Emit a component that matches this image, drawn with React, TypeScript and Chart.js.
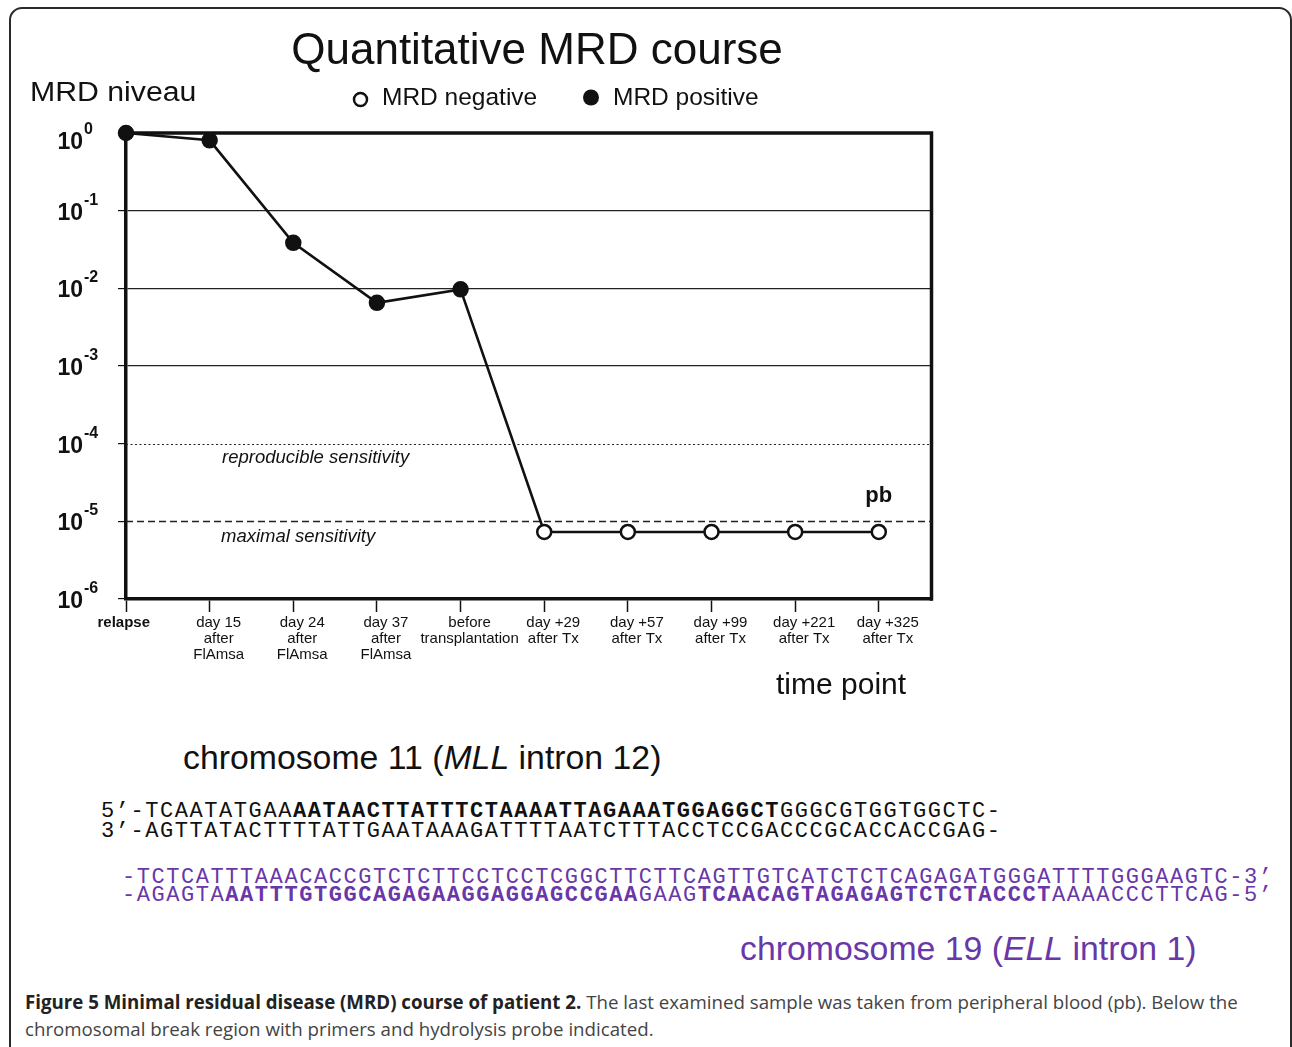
import React, { useEffect, useRef } from "react";
import { Chart, registerables } from "chart.js";

Chart.register(...registerables);

// ---------- data ----------
const chartTitle = "Quantitative MRD course";
const yAxisTitle = "MRD niveau";
const xAxisTitle = "time point";
const legendNegative = "MRD negative";
const legendPositive = "MRD positive";

const timePointLabels: string[][] = [
  ["relapse"],
  ["day 15", "after", "FlAmsa"],
  ["day 24", "after", "FlAmsa"],
  ["day 37", "after", "FlAmsa"],
  ["before", "transplantation"],
  ["day +29", "after Tx"],
  ["day +57", "after Tx"],
  ["day +99", "after Tx"],
  ["day +221", "after Tx"],
  ["day +325", "after Tx"],
];
const mrdLevels = [1, 0.805, 0.0385, 0.0065, 0.0097, 7.3e-6, 7.3e-6, 7.3e-6, 7.3e-6, 7.3e-6];
const mrdPositive = [true, true, true, true, true, false, false, false, false, false];

const yTickExponents = [0, -1, -2, -3, -4, -5, -6];
const solidGridExponents = [-1, -2, -3];
const sensitivityLevels = [1e-4, 1e-5];
const sensitivityLabels = ["reproducible sensitivity", "maximal sensitivity"];
const lastSampleLabel = "pb";

const chr11Heading = ["chromosome 11 (", "MLL", " intron 12)"];
const chr19Heading = ["chromosome 19 (", "ELL", " intron 1)"];
const seq11Top = ["5’-TCAATATGAA", "AATAACTTATTTCTAAAATTAGAAATGGAGGCT", "GGGCGTGGTGGCTC-"];
const seq11Bottom = ["3’-AGTTATACTTTTATTGAATAAAGATTTTAATCTTTACCTCCGACCCGCACCACCGAG-"];
const seq19Top = ["-TCTCATTTAAACACCGTCTCTTCCTCCTCGGCTTCTTCAGTTGTCATCTCTCAGAGATGGGATTTTGGGAAGTC-3’"];
const seq19Bottom = [
  "-AGAGTA",
  "AATTTGTGGCAGAGAAGGAGGAGCCGAA",
  "GAAG",
  "TCAACAGTAGAGAGTCTCTACCCT",
  "AAAACCCTTCAG-5’",
];
const captionBold = "Figure 5 Minimal residual disease (MRD) course of patient 2.";
const captionLine1 = " The last examined sample was taken from peripheral blood (pb). Below the";
const captionLine2 = "chromosomal break region with primers and hydrolysis probe indicated.";

const INK = "#111";
const PURPLE = "#6937a8";
const SANS = '"Liberation Sans", Arial, sans-serif';
const MONO = '"Liberation Mono", "Courier New", monospace';

export default function App() {
  const ref = useRef<HTMLCanvasElement>(null);

  useEffect(() => {
    const canvas = ref.current;
    if (!canvas) return;

    const decorPlugin = {
      id: "mrdDecor",
      beforeDatasetsDraw(chart: any) {
        const { ctx, chartArea: a, scales } = chart;
        const y = scales.y;
        ctx.save();
        ctx.strokeStyle = INK;
        ctx.lineWidth = 3.5;
        ctx.lineCap = "square";
        ctx.beginPath();
        ctx.moveTo(a.left, a.top);
        ctx.lineTo(a.right, a.top);
        ctx.lineTo(a.right, a.bottom);
        ctx.stroke();
        ctx.lineCap = "butt";
        sensitivityLevels.forEach((lvl, i) => {
          const py = Math.round(y.getPixelForValue(lvl)) + 0.5;
          ctx.setLineDash(i === 0 ? [2, 2.5] : [7, 4]);
          ctx.lineWidth = i === 0 ? 1.2 : 1.4;
          ctx.strokeStyle = "#222";
          ctx.beginPath();
          ctx.moveTo(a.left, py);
          ctx.lineTo(a.right, py);
          ctx.stroke();
        });
        ctx.restore();
      },
      afterDraw(chart: any) {
        const { ctx, scales } = chart;
        const y = scales.y;
        const x = scales.x;
        ctx.save();
        ctx.fillStyle = INK;
        ctx.textBaseline = "alphabetic";

        // title
        ctx.textAlign = "center";
        ctx.font = `44px ${SANS}`;
        ctx.fillText(chartTitle, 537, 64);

        // y axis title
        ctx.save();
        ctx.translate(30, 100.5);
        ctx.scale(1.12, 1);
        ctx.textAlign = "left";
        ctx.font = `27px ${SANS}`;
        ctx.fillText(yAxisTitle, 0, 0);
        ctx.restore();

        // legend
        ctx.lineWidth = 2.5;
        ctx.strokeStyle = INK;
        ctx.fillStyle = "#fff";
        ctx.beginPath();
        ctx.arc(360.5, 99.5, 6.5, 0, Math.PI * 2);
        ctx.fill();
        ctx.stroke();
        ctx.fillStyle = INK;
        ctx.beginPath();
        ctx.arc(591, 97.5, 8, 0, Math.PI * 2);
        ctx.fill();
        ctx.textAlign = "left";
        ctx.font = `24.5px ${SANS}`;
        ctx.fillText(legendNegative, 382, 105);
        ctx.fillText(legendPositive, 613, 105);

        // y tick labels 10^k
        yTickExponents.forEach((e) => {
          const py = y.getPixelForValue(Math.pow(10, e));
          const base = py + (e === 0 ? 8 : 1);
          ctx.textAlign = "right";
          ctx.font = `bold 23px ${SANS}`;
          ctx.fillText("10", 83, base + 8);
          ctx.textAlign = "left";
          ctx.font = `bold 16px ${SANS}`;
          ctx.fillText(String(e), 84, base - 7);
        });

        // sensitivity labels
        ctx.textAlign = "left";
        ctx.font = `italic 18.5px ${SANS}`;
        ctx.fillText(sensitivityLabels[0], 222, y.getPixelForValue(sensitivityLevels[0]) + 19);
        ctx.fillText(sensitivityLabels[1], 221, y.getPixelForValue(sensitivityLevels[1]) + 20.5);

        // pb
        ctx.textAlign = "center";
        ctx.font = `bold 22px ${SANS}`;
        ctx.fillText(
          lastSampleLabel,
          x.getPixelForValue(mrdLevels.length - 1),
          y.getPixelForValue(sensitivityLevels[1]) - 19
        );

        // x axis title
        ctx.textAlign = "left";
        ctx.font = `30px ${SANS}`;
        ctx.fillText(xAxisTitle, 776, 694);
        ctx.restore();
      },
    };

    const chart = new Chart(canvas, {
      type: "line",
      data: {
        datasets: [
          {
            data: mrdLevels.map((v, i) => ({ x: i, y: v })),
            borderColor: INK,
            borderWidth: 2.6,
            pointRadius: 7,
            pointBorderWidth: 2.5,
            pointBorderColor: INK,
            pointBackgroundColor: mrdPositive.map((p) => (p ? INK : "#fff")),
            tension: 0,
            clip: false as any,
          },
        ],
      },
      options: {
        animation: false,
        responsive: false,
        events: [],
        layout: { padding: { top: 133, left: 0, right: 360.5, bottom: 0 } },
        plugins: { legend: { display: false }, tooltip: { enabled: false }, title: { display: false } },
        scales: {
          x: {
            type: "linear",
            min: 0,
            max: 9.63,
            afterBuildTicks: (s: any) => {
              s.ticks = timePointLabels.map((_, i) => ({ value: i }));
            },
            afterFit: (s: any) => {
              s.height = 121;
            },
            ticks: {
              autoSkip: false,
              maxRotation: 0,
              minRotation: 0,
              padding: 3,
              labelOffset: 9,
              color: INK,
              // the first label sits centred on its tick; trailing pad compensates the shared offset
              callback: (_v: any, i: number) =>
                i === 0 ? timePointLabels[i].map((s) => s + "\u2002\u2002\u2002") : timePointLabels[i],
              font: (c: any) => ({
                family: SANS,
                size: 15,
                weight: c.index === 0 ? "bold" : "normal",
                lineHeight: 1.07,
              }),
            },
            grid: {
              drawOnChartArea: false,
              drawTicks: true,
              tickLength: 13,
              tickColor: INK,
              tickWidth: 1.5,
            },
            border: { display: true, width: 3.5, color: INK },
          },
          y: {
            type: "logarithmic",
            min: 1e-6,
            max: 1,
            afterBuildTicks: (s: any) => {
              s.ticks = yTickExponents.map((e) => ({ value: Math.pow(10, e) }));
            },
            afterFit: (s: any) => {
              s.width = 126;
            },
            ticks: { display: false },
            grid: {
              color: (c: any) =>
                c.tick && solidGridExponents.includes(Math.round(Math.log10(c.tick.value)))
                  ? "#222"
                  : "rgba(0,0,0,0)",
              lineWidth: 1.2,
              drawTicks: true,
              tickLength: 8,
              tickColor: INK,
              tickWidth: 1.2,
            },
            border: { display: true, width: 3.5, color: INK },
          },
        },
      },
      plugins: [decorPlugin],
    } as any);

    return () => chart.destroy();
  }, []);

  const monoLine = (top: number, left: number, color: string, parts: string[], boldOdd: boolean) => (
    <div
      style={{
        position: "absolute",
        left,
        top,
        fontFamily: MONO,
        fontSize: 22,
        letterSpacing: 1.56,
        lineHeight: "22px",
        whiteSpace: "pre",
        color,
      }}
    >
      {parts.map((p, i) => (
        <span key={i} style={{ fontWeight: boldOdd && i % 2 === 1 ? "bold" : "normal" }}>
          {p}
        </span>
      ))}
    </div>
  );

  return (
    <div
      style={{
        position: "absolute",
        left: 0,
        top: 0,
        width: 1292,
        height: 1047,
        overflow: "hidden",
        background: "#fff",
      }}
    >
      <div
        style={{
          position: "absolute",
          left: 9,
          top: 7,
          width: 1283,
          height: 1100,
          border: "2px solid #2a2a2a",
          borderRadius: 13,
          boxSizing: "border-box",
        }}
      />
      <canvas
        ref={ref}
        width={1292}
        height={720}
        style={{ position: "absolute", left: 0, top: 0, width: 1292, height: 720 }}
      />
      <div
        style={{
          position: "absolute",
          left: 183,
          top: 740.6,
          fontFamily: SANS,
          fontSize: 33.8,
          lineHeight: 1,
          whiteSpace: "nowrap",
          color: INK,
        }}
      >
        {chr11Heading[0]}
        <i>{chr11Heading[1]}</i>
        {chr11Heading[2]}
      </div>
      {monoLine(801.2, 101, INK, seq11Top, true)}
      {monoLine(821.2, 101, INK, seq11Bottom, false)}
      {monoLine(867, 122, PURPLE, seq19Top, false)}
      {monoLine(885, 122, PURPLE, seq19Bottom, true)}
      <div
        style={{
          position: "absolute",
          left: 740,
          top: 931.6,
          fontFamily: SANS,
          fontSize: 33.8,
          lineHeight: 1,
          whiteSpace: "nowrap",
          color: PURPLE,
        }}
      >
        {chr19Heading[0]}
        <i>{chr19Heading[1]}</i>
        {chr19Heading[2]}
      </div>
      <div
        style={{
          position: "absolute",
          left: 25,
          top: 988,
          fontFamily: '"Open Sans", sans-serif',
          fontSize: 18.7,
          lineHeight: "27px",
          whiteSpace: "nowrap",
          color: "#444",
        }}
      >
        <b style={{ color: "#222" }}>{captionBold}</b>
        {captionLine1}
        <br />
        {captionLine2}
      </div>
    </div>
  );
}
